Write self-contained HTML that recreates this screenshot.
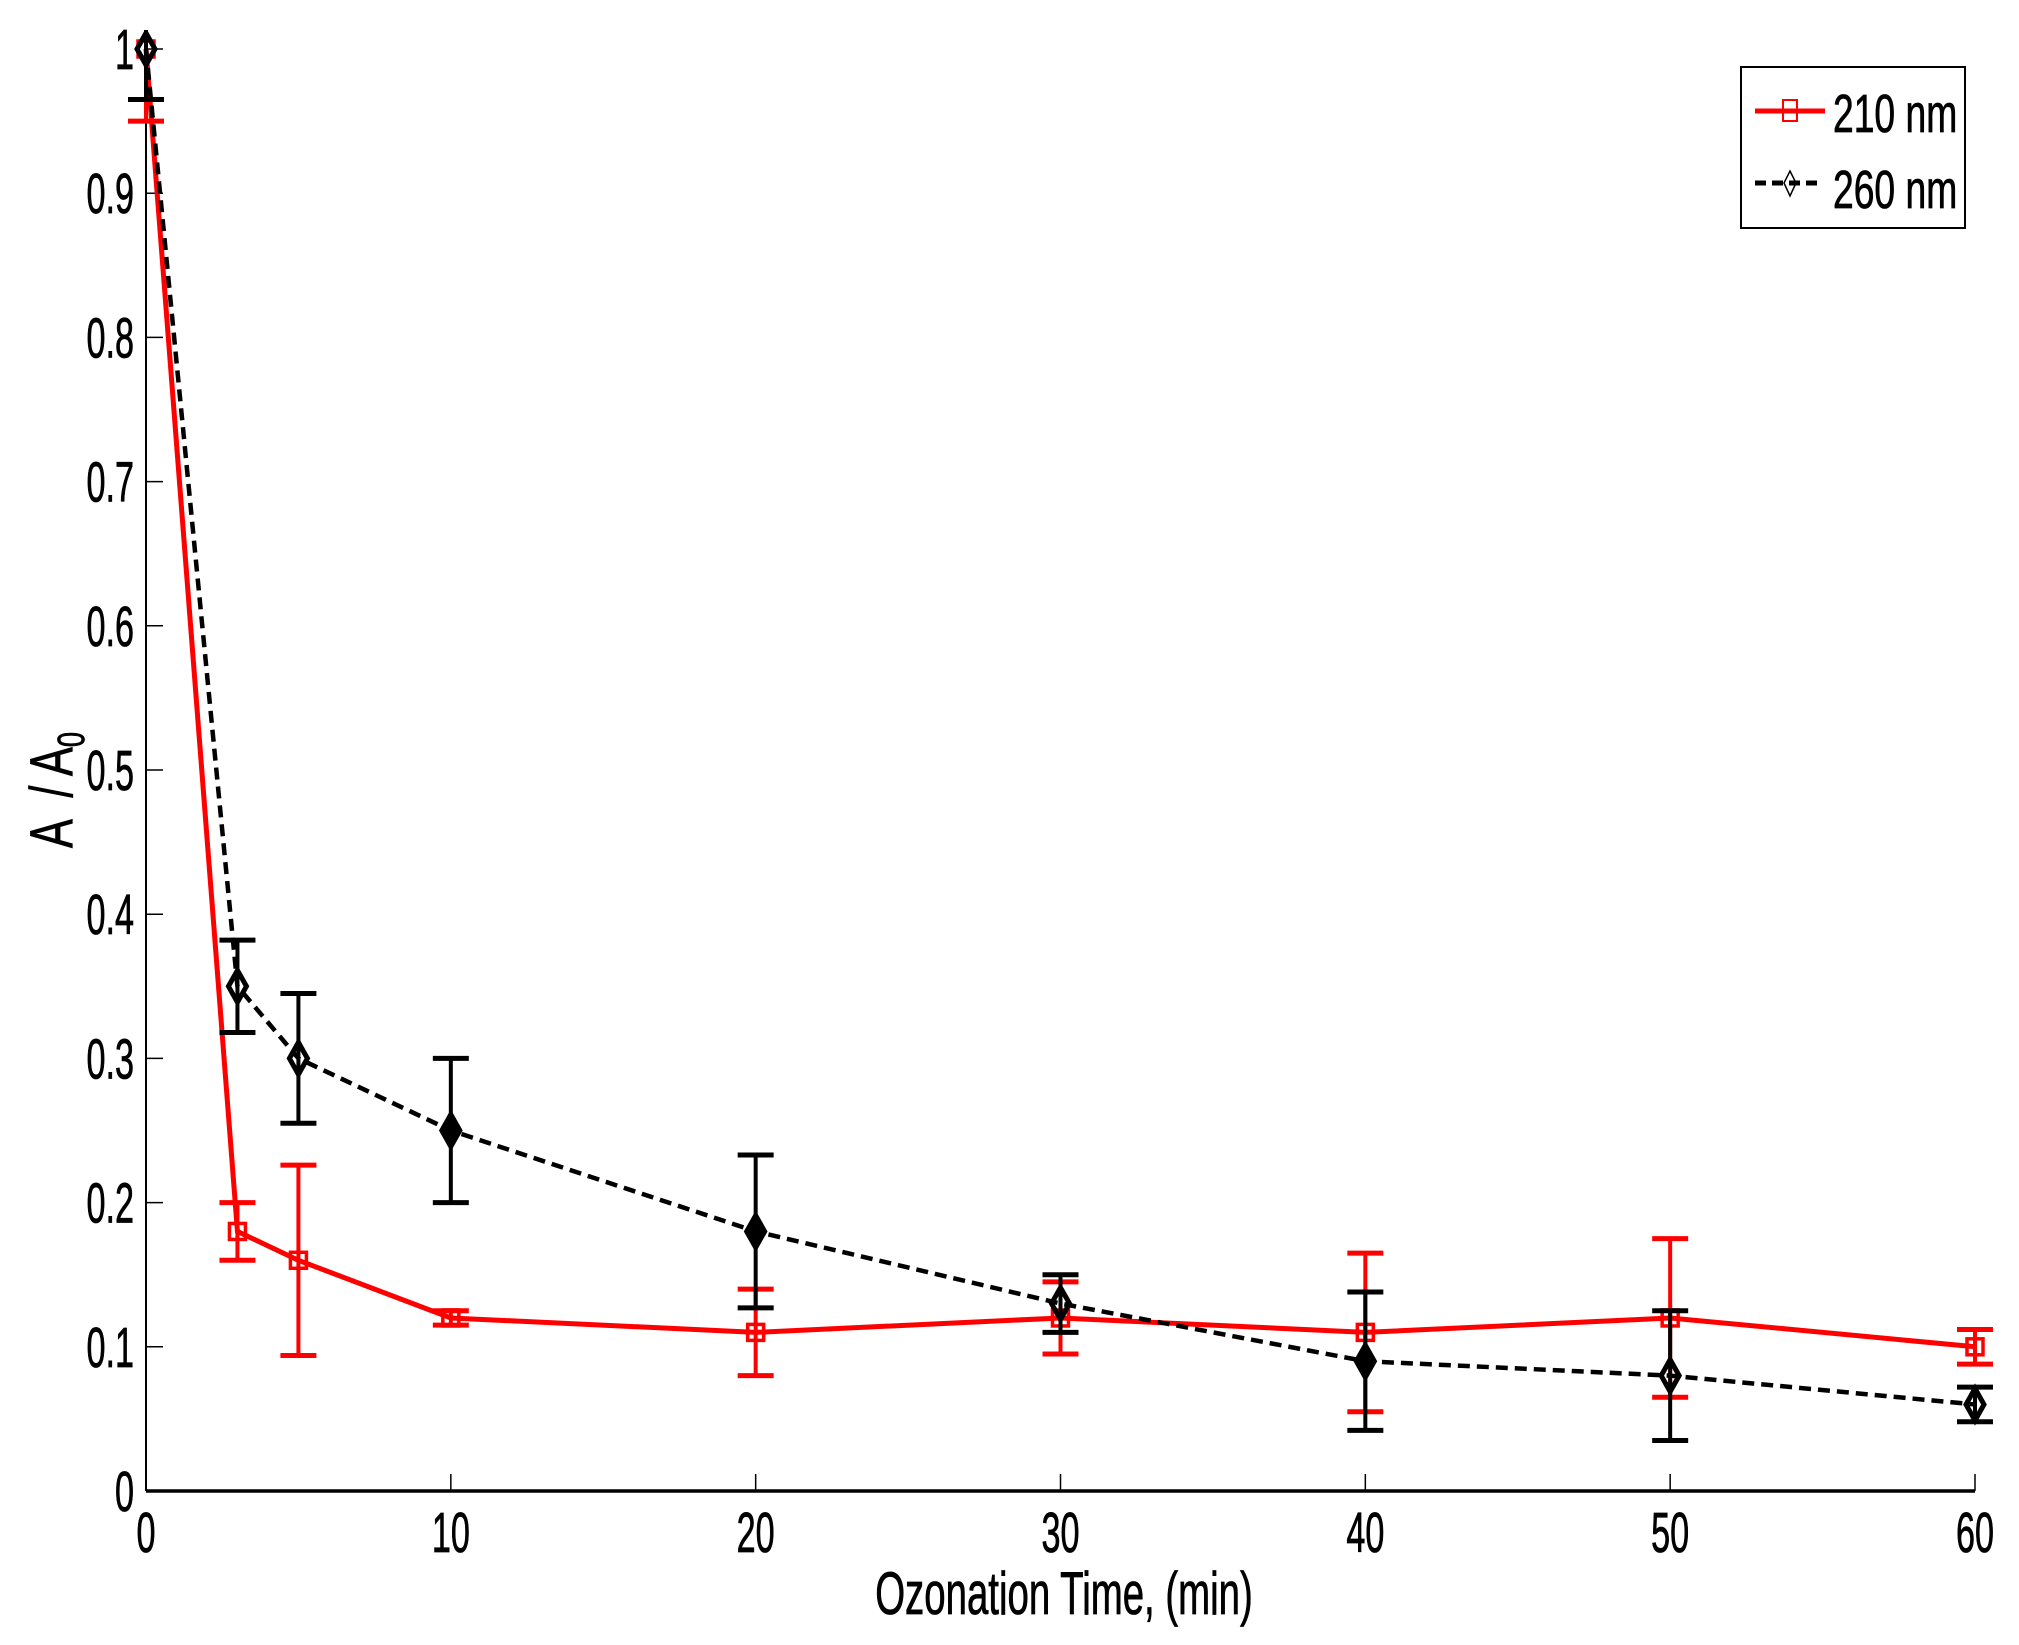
<!DOCTYPE html>
<html><head><meta charset="utf-8"><style>html,body{margin:0;padding:0;background:#fff}svg{display:block}</style></head>
<body>
<svg id="s" width="2019" height="1645" xmlns="http://www.w3.org/2000/svg" font-family="Liberation Sans, sans-serif"></svg>
<script>
const s=document.getElementById('s');
const X=v=>146+v*(1975-146)/60, Y=v=>1491-v*1442;
let h='<defs><clipPath id="c"><rect x="120" y="30" width="1880" height="1480"/></clipPath></defs>';
h+=`<line x1="146" y1="1491" x2="1975" y2="1491" stroke="#000" stroke-width="3.5"/>`;
h+=`<line x1="146" y1="1491" x2="146" y2="45" stroke="#000" stroke-width="2"/>`;
function txt(x,y,t,anchor,fs,sx,w){return `<text transform="translate(${x},${y}) scale(${sx},1)" font-size="${fs}" text-anchor="${anchor}" stroke="#000" stroke-width="${w||0.8}">${t}</text>`;}
for(let i=0;i<=10;i++){const y=Y(i/10);
 h+=`<line x1="146" y1="${y}" x2="163" y2="${y}" stroke="#000" stroke-width="1.5"/>`;
 h+=txt(134,y+20,i==10?'1':(i==0?'0':'0.'+i),'end',57,0.6);}
for(const v of [0,10,20,30,40,50,60]){const x=X(v);
 h+=`<line x1="${x}" y1="1491" x2="${x}" y2="1474" stroke="#000" stroke-width="1.5"/>`;
 h+=txt(x,1552,v,'middle',57,0.6);}
h+=txt(1064,1614,'Ozonation Time, (min)','middle',60,0.64);
h+=`<text transform="translate(72,790) rotate(-90) scale(0.72,1)" font-size="60" text-anchor="middle" stroke="#000" stroke-width="0.8" xml:space="preserve">A  / A<tspan font-size="38" dy="12">0</tspan></text>`;
const t=[0,3,5,10,20,30,40,50,60];
const r=[[1,.05],[.18,.02],[.16,.066],[.12,.005],[.11,.03],[.12,.025],[.11,.055],[.12,.055],[.10,.012]];
const k=[[1,.035],[.35,.032],[.30,.045],[.25,.05],[.18,.053],[.13,.02],[.09,.048],[.08,.045],[.06,.012]];
let g='';
function series(d,col,dash,mk){
 let p=t.map((v,i)=>X(v)+','+Y(d[i][0])).join(' ');
 g+=`<polyline points="${p}" fill="none" stroke="${col}" stroke-width="${dash?4.5:5}" ${dash?'stroke-dasharray="12,7"':''}/>`;
 t.forEach((v,i)=>{const x=X(v),a=Y(d[i][0]+d[i][1]),b=Y(d[i][0]-d[i][1]);
  g+=`<line x1="${x}" y1="${a}" x2="${x}" y2="${b}" stroke="${col}" stroke-width="4"/>`;
  g+=`<line x1="${x-18}" y1="${a}" x2="${x+18}" y2="${a}" stroke="${col}" stroke-width="5"/>`;
  g+=`<line x1="${x-18}" y1="${b}" x2="${x+18}" y2="${b}" stroke="${col}" stroke-width="5"/>`;
  const y=Y(d[i][0]);
  if(mk=='sq')g+=`<rect x="${x-8}" y="${y-8}" width="16" height="16" fill="none" stroke="${col}" stroke-width="3.5"/>`;
  else g+=`<polygon points="${x},${y-16} ${x+9},${y} ${x},${y+16} ${x-9},${y}" fill="${(i==3||i==4||i==6)?'#000':'none'}" stroke="#000" stroke-width="5"/>`;
 });
}
series(r,'#f00',false,'sq');
series(k,'#000',true,'di');
h+=`<g clip-path="url(#c)">${g}</g>`;
h+=`<rect x="1741" y="67" width="224" height="161" fill="#fff" stroke="#000" stroke-width="2"/>`;
h+=`<line x1="1755" y1="111" x2="1825" y2="111" stroke="#f00" stroke-width="5"/>`;
h+=`<rect x="1783" y="100" width="14" height="21" fill="none" stroke="#f00" stroke-width="2"/>`;
h+=`<line x1="1755" y1="183" x2="1821" y2="183" stroke="#000" stroke-width="5" stroke-dasharray="11,6"/>`;
h+=`<polygon points="1790,171 1796,183 1790,196 1784,183" fill="none" stroke="#000" stroke-width="1.5"/>`;
h+=txt(1833,132,'210 nm','start',54,0.69);
h+=txt(1833,208,'260 nm','start',54,0.69);
s.innerHTML=h;
</script>
</body></html>
